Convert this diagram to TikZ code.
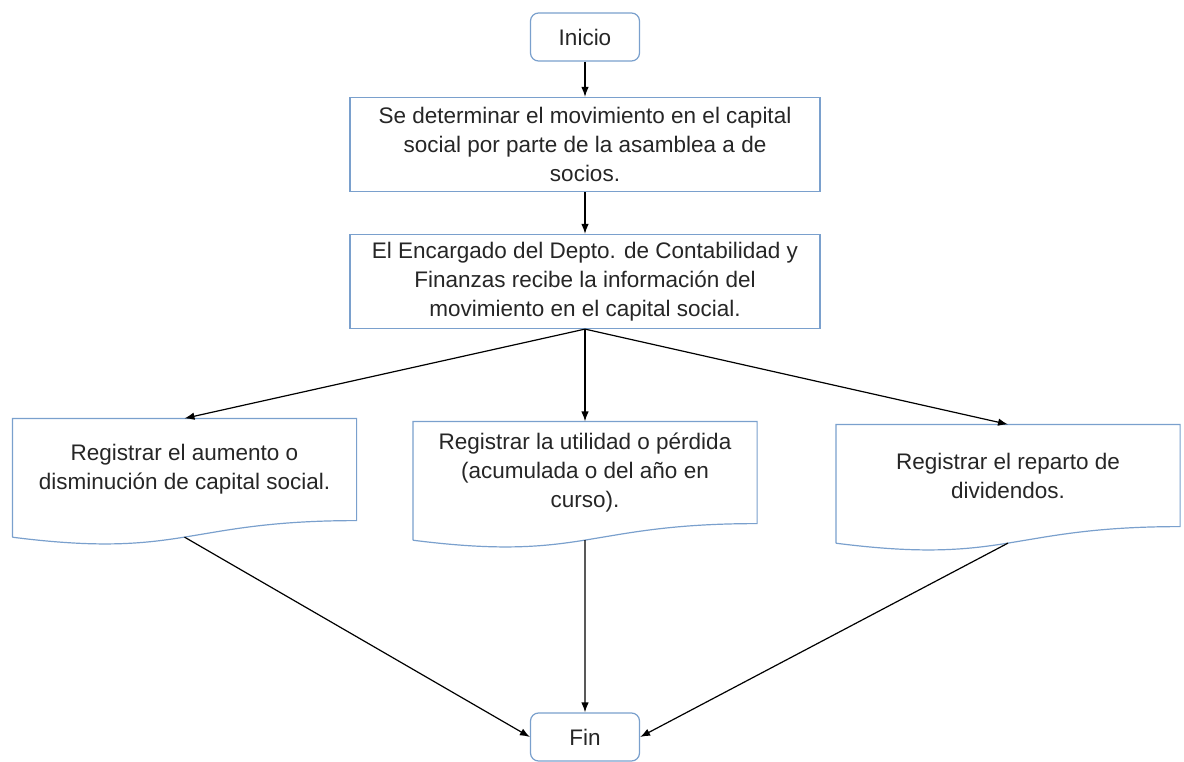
\documentclass[tikz,border=0pt]{standalone}
\usepackage{fontspec}
\setmainfont{Liberation Sans}
\usetikzlibrary{arrows.meta}

\definecolor{bordeazul}{RGB}{122,160,205}
\definecolor{texto}{RGB}{38,38,38}

\tikzset{
  caja/.style={draw=bordeazul, fill=white, align=center, inner sep=0pt, text=texto,
               minimum width=470pt, minimum height=94pt},
  term/.style={caja, rounded corners=8pt, minimum width=109pt, minimum height=48pt},
  doc/.style={align=center, inner sep=0pt, text=texto, minimum width=343pt, minimum height=101pt},
  docline/.style={draw=bordeazul},
}

% hoja con borde ondulado abajo; deja la coordenada #1f en el centro de la onda
\newcommand\docshape[1]{%
  \draw[docline] ([yshift=-16.6pt]#1.south west) -- (#1.north west) -- (#1.north east) -- (#1.south east)
    .. controls (#1.south) and ([yshift=-38.5pt]#1.south) .. ([yshift=-16.6pt]#1.south west)
    coordinate[pos=0.5] (#1f);}

\begin{document}
\begin{tikzpicture}[x=1pt, y=-1pt, line width=1.2pt, >={Latex[length=10pt,width=7.5pt]},
                    font=\fontsize{22.5}{29}\selectfont]
      \useasboundingbox (0,0) rectangle (1184,762);

      \node[term] (Ini)  at (585,37)    {Inicio};
      \node[caja] (Det)  at (585,144.5) {Se determinar el movimiento en el capital\\
                                          social por parte de la asamblea a de\\ socios.};
      \node[caja] (Enc)  at (585,281.5) {El Encargado del Depto. de Contabilidad y\\
                                          Finanzas recibe la información del\\
                                          movimiento en el capital social.};
      \node[doc]  (RegA) at (184.5,469.5) {Registrar el aumento o\\ disminución de capital social.};
      \node[doc]  (RegB) at (585,472.5)   {Registrar la utilidad o pérdida\\
                                           (acumulada o del año en\\ curso).};
      \node[doc]  (RegC) at (1008,475.5)  {Registrar el reparto de\\ dividendos.};
      \node[term] (Fin)  at (585,737)   {Fin};

      \docshape{RegA}
      \docshape{RegB}
      \docshape{RegC}

      \draw[->] (Ini)  to (Det);
      \draw[->] (Det)  to (Enc);
      \draw[->] (Enc.south) to (RegA.north);
      \draw[->] (Enc.south) to (RegB.north);
      \draw[->] (Enc.south) to (RegC.north);
      \draw[->] (RegAf) to (Fin.west);
      \draw[->] (RegBf) to (Fin.north);
      \draw[->] (RegCf) to (Fin.east);
\end{tikzpicture}
\end{document}
